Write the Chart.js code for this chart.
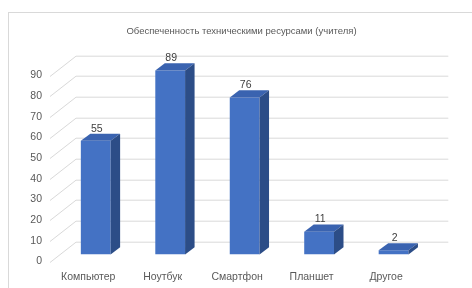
<!DOCTYPE html>
<html>
<head>
<meta charset="utf-8">
<script src="https://cdn.jsdelivr.net/npm/chart.js@4.4.1/dist/chart.umd.min.js"></script>
<style>
  html, body { margin: 0; padding: 0; background: #fff; }
  #wrap { width: 472px; height: 288px; position: relative; }
</style>
</head>
<body>
<div id="wrap"><canvas id="chartRecursos"></canvas></div>
<script>
// datos del grafico
const chartTitle = "Обеспеченность техническими ресурсами (учителя)";
const categories = ["Компьютер", "Ноутбук", "Смартфон", "Планшет", "Другое"];
const values = [55, 89, 76, 11, 2];
const yMin = 0;
const yMax = 90;
const yStep = 10;

const FONT = "'Liberation Sans', Arial, sans-serif";
const GRAY = "#595959";
const GRID = "#d9d9d9";

// profundidad del "3D"
const WALL_DX = 25, WALL_DY = 20.3;   // pared del fondo
const BAR_SHIFT_X = 7.5, BAR_SHIFT_Y = -7; // cara frontal de la barra
const BAR_DX = 9.5, BAR_DY = 7.2;     // grosor de la barra

const colors = { front: "#4472c4", top: "#3a63b0", side: "#2c4d87" };

/* paredes y cuadricula detras de las barras */
const wallsPlugin = {
  id: "walls",
  beforeDraw(chart) {
    const ctx = chart.ctx;
    ctx.save();
    ctx.fillStyle = "#fff";
    ctx.fillRect(0, 0, chart.width, chart.height);
    ctx.strokeStyle = GRID;
    ctx.lineWidth = 1;
    ctx.strokeRect(8.5, 12.5, chart.width + 20, chart.height + 20);
    ctx.fillStyle = GRAY;
    ctx.font = "9.5px " + FONT;
    ctx.textAlign = "center";
    ctx.textBaseline = "middle";
    ctx.fillText(chartTitle, 241.5, 31);
    ctx.restore();
  },
  beforeDatasetsDraw(chart) {
    const { ctx, chartArea } = chart;
    const y = chart.scales.y;
    ctx.save();
    ctx.strokeStyle = GRID;
    ctx.lineWidth = 1;
    y.ticks.forEach((t) => {
      const py = Math.round(y.getPixelForValue(t.value)) + 0.5;
      ctx.beginPath();
      ctx.moveTo(chartArea.left - 1, py);
      ctx.lineTo(chartArea.left + WALL_DX, py - WALL_DY);
      ctx.lineTo(chartArea.right + WALL_DX, py - WALL_DY);
      ctx.stroke();
    });
    ctx.restore();
  },
  beforeDatasetDraw(chart) {
    chart.ctx.save();
    chart.ctx.translate(BAR_SHIFT_X, BAR_SHIFT_Y);
  },
  afterDatasetDraw(chart, args) {
    const ctx = chart.ctx;
    const meta = args.meta;
    meta.data.forEach((bar, i) => {
      const { x, y, base, width } = bar.getProps(["x", "y", "base", "width"], true);
      const l = x - width / 2, r = x + width / 2;
      // cara superior
      ctx.fillStyle = colors.top;
      ctx.beginPath();
      ctx.moveTo(l, y);
      ctx.lineTo(r, y);
      ctx.lineTo(r + BAR_DX, y - BAR_DY);
      ctx.lineTo(l + BAR_DX, y - BAR_DY);
      ctx.closePath();
      ctx.fill();
      // cara lateral
      ctx.fillStyle = colors.side;
      ctx.beginPath();
      ctx.moveTo(r, y);
      ctx.lineTo(r + BAR_DX, y - BAR_DY);
      ctx.lineTo(r + BAR_DX, base - BAR_DY);
      ctx.lineTo(r, base);
      ctx.closePath();
      ctx.fill();
      // etiqueta del valor
      ctx.fillStyle = "#404040";
      ctx.font = "10.5px " + FONT;
      ctx.textAlign = "center";
      ctx.textBaseline = "middle";
      ctx.fillText(String(values[i]), x + 1, y - BAR_DY - 5);
    });
    ctx.restore();
  },
};

const ctxRec = document.getElementById("chartRecursos").getContext("2d");
const chartRecursos = new Chart(ctxRec, {
  type: "bar",
  data: {
    labels: categories,
    datasets: [
      {
        label: chartTitle,
        data: values,
        backgroundColor: colors.front,
        borderWidth: 0,
        categoryPercentage: 1,
        barPercentage: 0.4,
      },
    ],
  },
  options: {
    responsive: true,
    maintainAspectRatio: false,
    animation: false,
    events: [],
    layout: { padding: { left: 10, right: 48.7, top: 75.5, bottom: 0 } },
    plugins: {
      legend: { display: false },
      title: { display: false },
      tooltip: { enabled: false },
    },
    scales: {
      x: {
        grid: { display: false, drawTicks: false },
        border: { display: false },
        ticks: { color: GRAY, font: { family: FONT, size: 10.5 }, padding: 9, maxRotation: 0 },
        afterFit(scale) { scale.height = 26.5; },
      },
      y: {
        min: yMin,
        max: yMax,
        grid: { display: false, drawTicks: false },
        border: { display: false },
        ticks: { stepSize: yStep, color: GRAY, font: { family: FONT, size: 10.5 }, padding: 9 },
        afterFit(scale) { scale.width = 41; },
      },
    },
  },
  plugins: [wallsPlugin],
});
</script>
</body>
</html>
